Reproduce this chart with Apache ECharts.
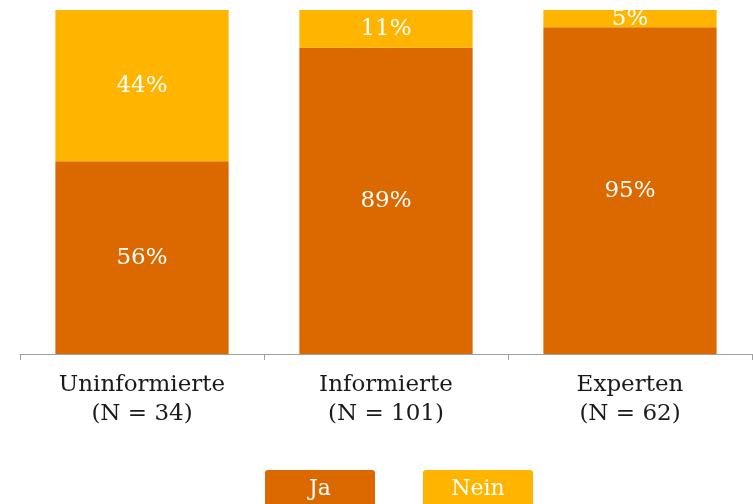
<!DOCTYPE html>
<html>
<head>
<meta charset="utf-8">
<script src="https://cdn.jsdelivr.net/npm/echarts@6/dist/echarts.min.js"></script>
<style>
  html, body { margin: 0; padding: 0; background: #fff; }
  #main { width: 753px; height: 504px; }
</style>
</head>
<body>
<div id="main"></div>
<script>
// Kategorien und Werte (Prozent)
var categories = ['Uninformierte\n(N = 34)', 'Informierte\n(N = 101)', 'Experten\n(N = 62)'];
var jaValues = [56, 89, 95];
var neinValues = [44, 11, 5];

var fontFam = 'DejaVu Serif';
var jaColor = '#db6900';
var neinColor = '#ffb500';
var chart = echarts.init(document.getElementById('main'));

function boxStyle(color) {
    return {
        backgroundColor: color,
        borderRadius: 3,
        width: 110,
        height: 39,
        lineHeight: 39,
        align: 'center',
        color: '#fff',
        fontSize: 22,
        fontFamily: fontFam
    };
}

chart.setOption({
    animation: false,
    grid: { left: 20, right: 1, top: 10, bottom: 150 },
    legend: {
        left: 255,
        top: 465,
        itemWidth: 0,
        itemHeight: 0,
        itemGap: 43,
        icon: 'none',
        data: ['Ja', 'Nein'],
        formatter: function (name) {
            return name === 'Ja' ? '{ja|Ja}' : '{nein|Nein}';
        },
        textStyle: {
            rich: { ja: boxStyle(jaColor), nein: boxStyle(neinColor) }
        }
    },
    xAxis: {
        type: 'category',
        data: categories,
        axisLine: { lineStyle: { color: '#a0a0a0', width: 1 } },
        axisTick: { show: true, interval: 0, length: 6, lineStyle: { color: '#a0a0a0' } },
        axisLabel: {
            color: '#1a1a1a',
            fontSize: 23,
            fontFamily: fontFam,
            lineHeight: 29,
            margin: 17
        }
    },
    yAxis: { type: 'value', min: 0, max: 100, show: false },
    series: [
        {
            name: 'Ja',
            type: 'bar',
            stack: 'total',
            barWidth: '71%',
            color: jaColor,
            label: { show: true, position: 'inside', formatter: '{c}%', color: '#fff', fontSize: 23, fontFamily: fontFam },
            data: jaValues
        },
        {
            name: 'Nein',
            type: 'bar',
            stack: 'total',
            barWidth: '71%',
            color: neinColor,
            label: { show: true, position: 'inside', formatter: '{c}%', color: '#fff', fontSize: 23, fontFamily: fontFam },
            data: neinValues
        }
    ]
});
</script>
</body>
</html>
